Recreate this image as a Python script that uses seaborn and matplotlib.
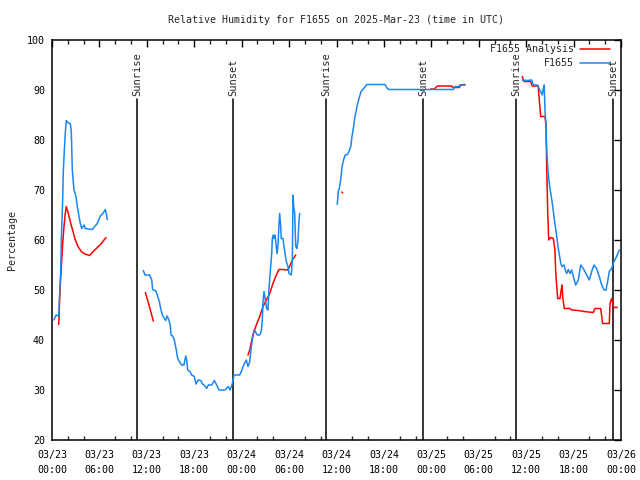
import numpy as np
import pandas as pd
import matplotlib
matplotlib.use("Agg")
import matplotlib.pyplot as plt
import matplotlib.dates as mdates
from matplotlib.lines import Line2D
import seaborn as sns

# ---- data (hours since 2025-03-23 00:00 UTC, relative humidity %) ----
obs_seg1_h = [0.25, 0.51, 0.85, 0.92, 1.10, 1.18, 1.35, 1.43, 1.52, 1.68, 1.81, 2.02, 2.32, 2.44, 2.57, 2.78,
              3.04, 3.20, 3.42, 3.58, 3.76, 4.05, 4.21, 5.10, 5.40, 5.73, 6.11, 6.45, 6.74, 6.87, 7.00]
obs_seg1_v = [44, 45, 44.8, 47.7, 53.4, 60, 68, 73.7, 76.7, 81.3, 83.9, 83.5, 83.2, 81.7, 74, 70,
              68.7, 66.7, 64.7, 63.3, 62.3, 63, 62.3, 62.1, 62.7, 63.3, 64.8, 65.3, 66.1, 65.3, 64.1]

obs_seg2_h = [11.55, 11.77, 12.36, 12.62, 12.74, 12.94, 13.12, 13.37, 13.58, 13.75, 13.96, 14.21, 14.39, 14.55,
              14.72, 14.97, 15.06, 15.27, 15.48, 15.69, 15.91, 16.11, 16.41, 16.70, 16.92, 17.04, 17.17, 17.46,
              17.68, 18.01, 18.22, 18.51, 18.82, 19.07, 19.36, 19.57, 19.78, 20.21, 20.54, 20.84, 21.13, 21.89,
              22.31, 22.52, 22.81, 23.03, 23.75, 23.95, 24.26, 24.59, 24.80, 25.02, 25.22, 25.43, 25.56, 25.72,
              25.98, 26.28, 26.48, 26.61, 26.70, 26.83, 26.99, 27.17, 27.33, 27.42, 27.55, 27.67, 27.80, 27.88,
              28.00, 28.09, 28.22, 28.34, 28.47, 28.60, 28.72, 28.81, 28.94, 29.01, 29.23, 29.36, 29.52, 29.65,
              29.86, 29.99, 30.28, 30.41, 30.50, 30.58, 30.71, 30.84, 31.00, 31.13, 31.25, 31.34]
obs_seg2_v = [53.9, 53, 53, 52, 50.1, 49.9, 49.9, 48.7, 47.7, 46.3, 45, 44.3, 43.9, 44.8,
              44.3, 43, 41, 40.8, 40, 38.3, 36.3, 35.7, 35, 35, 36.8, 36, 34, 33.7,
              33, 32.7, 31.2, 32, 31.9, 31.2, 30.8, 30.3, 31, 31, 31.9, 31, 30, 30,
              30.7, 30, 31.2, 33, 33, 33.7, 35, 36, 34.7, 35.7, 38.7, 40.7, 42, 41.7,
              41, 41, 41.7, 44, 47.7, 49.7, 48, 46.3, 46, 49.3, 52.3, 54.7, 57.3, 60.3,
              61, 60.3, 61, 59.3, 57.3, 59, 63, 65.3, 62.7, 60.3, 60.3, 58.7, 57, 55.7,
              54.7, 53.3, 53, 56, 69, 66.7, 65.3, 58.7, 58.3, 60, 63.7, 65.3]

obs_seg3_h = [36.10, 36.23, 36.35, 36.53, 36.66, 36.78, 36.95, 37.11, 37.37, 37.58, 37.80, 37.96, 38.13, 38.30,
              38.47, 38.63, 38.85, 39.10, 39.39, 39.64, 39.82, 42.14, 42.43, 42.68, 50.78, 50.99, 51.63, 51.75, 52.26]
obs_seg3_v = [67.1, 69.7, 70.3, 72, 74, 75.3, 76.3, 77, 77.1, 77.7, 78.7, 80.7, 82.3, 84.3,
              85.7, 87, 88.3, 89.7, 90.2, 90.7, 91.1, 91.1, 90.3, 90.1, 90.1, 90.7, 90.7, 91, 91]

obs_seg4_h = [59.51, 60.07, 60.70, 60.90, 61.41, 61.62, 61.84, 62.04, 62.17, 62.29, 62.38, 62.51, 62.60, 62.72,
              62.85, 63.01, 63.18, 63.36, 63.52, 63.69, 63.87, 64.03, 64.20, 64.38, 64.53, 64.79, 64.95, 65.13,
              65.33, 65.55, 65.76, 65.97, 66.27, 66.60, 66.90, 67.23, 67.66, 67.99, 68.29, 68.58, 68.92, 69.25,
              69.56, 69.85, 70.10, 70.31, 70.52, 70.82, 71.11, 71.45, 71.78]
obs_seg4_v = [92, 91.9, 92, 91, 91, 90.3, 89.7, 89, 90.3, 91, 86, 82.7, 78, 74.7,
              72.3, 70.3, 68.7, 66.7, 64.7, 62.7, 60.7, 58.7, 57, 55.3, 54.7, 55, 54, 53.3,
              54.1, 53.3, 54, 52.7, 51, 52, 55, 54.3, 53, 52, 53.7, 55, 54.3, 52.7,
              51, 50, 50, 51.7, 53.7, 54.3, 55.7, 56.7, 58]

ana_seg1_h = [0.85, 0.89, 1.01, 1.18, 1.35, 1.52, 1.68, 1.81, 1.94, 2.11, 2.37, 2.66, 2.95, 3.29, 3.71, 4.14,
              4.56, 4.77, 5.19, 5.61, 6.24, 6.83]
ana_seg1_v = [43.1, 44.7, 50, 54.7, 59.3, 62.7, 65.3, 66.7, 66, 65, 63.3, 61.7, 60, 58.7, 57.7, 57.2,
              57, 56.9, 57.7, 58.3, 59.3, 60.5]

ana_seg2_h = [11.81, 12.27, 12.82]
ana_seg2_v = [49.5, 47, 43.8]

ana_seg3_h = [24.80, 25.02, 25.43, 25.85, 26.28, 26.70, 27.12, 27.55, 27.96, 28.38, 28.72, 29.23, 29.77, 29.95,
              30.15, 30.41, 30.84]
ana_seg3_v = [37, 38, 41, 43, 44.7, 46.7, 48, 49.3, 51.3, 53, 54.1, 54.1, 54, 54.3,
              55, 56, 57]

ana_seg4_h = [36.68, 36.78]
ana_seg4_v = [69.6, 69.4]

ana_seg5_h = [47.92, 48.34, 48.59, 48.75, 50.58, 50.70, 51.54, 51.63, 52.26]
ana_seg5_v = [90.2, 90.2, 90.5, 90.8, 90.8, 90.5, 90.5, 91, 91.1]

ana_seg6_h = [59.51, 59.72, 60.57, 60.77, 61.53, 61.66, 61.84, 62.38, 62.51, 62.60, 62.72, 62.85, 63.10, 63.43,
              63.64, 63.73, 63.87, 63.99, 64.28, 64.41, 64.53, 64.62, 64.82, 65.55, 65.76, 66.60, 67.32, 68.49,
              68.71, 69.43, 69.68, 70.52, 70.61, 70.82, 70.95, 71.11, 71.53]
ana_seg6_v = [92.7, 91.7, 91.7, 90.8, 90.8, 88, 84.7, 84.7, 83, 74.7, 66, 60, 60.5, 60.3,
              58, 54, 50.7, 48.3, 48.3, 49.7, 51, 48.7, 46.3, 46.3, 46, 45.9, 45.7, 45.5,
              46.3, 46.3, 43.3, 43.3, 47.3, 48.3, 47.3, 46.5, 46.5]

sun_events_h = [10.75, 22.95, 34.70, 46.97, 58.75, 71.00]
sun_labels = ["Sunrise", "Sunset", "Sunrise", "Sunset", "Sunrise", "Sunset"]

title = "Relative Humidity for F1655 on 2025-Mar-23 (time in UTC)"
ylabel = "Percentage"
label_analysis = "F1655 Analysis"
label_obs = "F1655"

# ---- plotting ----
base = pd.Timestamp("2025-03-23 00:00")
def to_time(hours):
    return base + pd.to_timedelta(np.asarray(hours, dtype=float), unit="h")

sns.set_theme(style="white")
MONO = ["DejaVu Sans Mono", "DejaVu Sans"]
plt.rcParams["font.family"] = MONO
FS = 7.2

fig = plt.figure(figsize=(6.4, 4.8), dpi=100)
ax = fig.add_axes([52 / 640, 40 / 480, (621 - 52) / 640, 400 / 480])

RED = "#ff0000"
BLUE = "#1a86f2"

ana_segments = [(ana_seg1_h, ana_seg1_v), (ana_seg2_h, ana_seg2_v), (ana_seg3_h, ana_seg3_v),
                (ana_seg4_h, ana_seg4_v), (ana_seg5_h, ana_seg5_v), (ana_seg6_h, ana_seg6_v)]
obs_segments = [(obs_seg1_h, obs_seg1_v), (obs_seg2_h, obs_seg2_v), (obs_seg3_h, obs_seg3_v),
                (obs_seg4_h, obs_seg4_v)]

for h, v in ana_segments:
    sns.lineplot(x=to_time(h), y=v, ax=ax, color=RED, linewidth=1.1, estimator=None, sort=False, zorder=3)
for h, v in obs_segments:
    sns.lineplot(x=to_time(h), y=v, ax=ax, color=BLUE, linewidth=1.1, estimator=None, sort=False, zorder=4)

for h, lab in zip(sun_events_h, sun_labels):
    t = to_time([h])[0]
    ax.plot([t, t], [20, 88.1], color="black", linewidth=1.1, zorder=2)
    ax.text(t, 88.7, lab, rotation=90, ha="center", va="bottom", fontsize=FS + 0.3, family=MONO)

ax.set_xlim(to_time([0])[0], to_time([72])[0])
ax.set_ylim(20, 100)
ax.set_yticks(np.arange(20, 101, 10))
ax.xaxis.set_major_locator(mdates.HourLocator(byhour=[0, 6, 12, 18]))
ax.xaxis.set_minor_locator(mdates.HourLocator(byhour=range(0, 24, 2)))
ax.xaxis.set_major_formatter(mdates.DateFormatter("%m/%d\n%H:%M"))

ax.tick_params(axis="both", which="major", direction="in", length=5, width=1, top=True, right=True,
               labelsize=FS, pad=5, colors="black")
ax.tick_params(axis="x", which="minor", direction="in", length=3, width=1, top=True, bottom=True)
ax.tick_params(axis="x", which="major", pad=7)
for lab in ax.get_xticklabels() + ax.get_yticklabels():
    lab.set_family(MONO)
    lab.set_linespacing(1.6)

for s in ax.spines.values():
    s.set_color("black")
    s.set_linewidth(1.1)
    s.set_visible(True)

ax.set_xlabel("")
ax.set_ylabel(ylabel, fontsize=FS, family=MONO, labelpad=7)
ax.set_title(title, fontsize=FS, family=MONO, pad=12)
ax.grid(False)

handles = [Line2D([], [], color=RED, linewidth=1.1), Line2D([], [], color=BLUE, linewidth=1.1)]
leg = ax.legend(handles, [label_analysis, label_obs], loc="upper right",
                bbox_to_anchor=(614 / 640, 1 - 40 / 480), bbox_transform=fig.transFigure,
                frameon=False, markerfirst=False, handlelength=3.0, handletextpad=0.6,
                labelspacing=0.45, borderaxespad=0.0, borderpad=0.4, prop={"family": MONO, "size": FS})

fig.savefig("out.png", dpi=100)
